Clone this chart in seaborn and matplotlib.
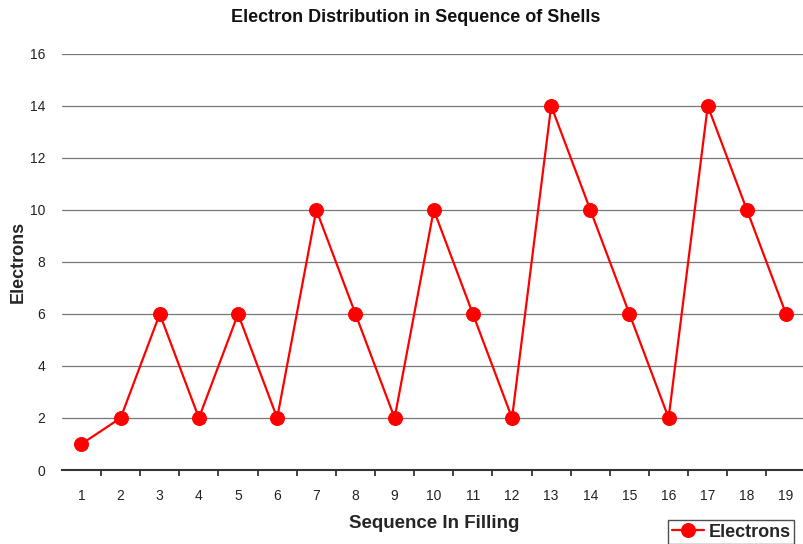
import numpy as np
import pandas as pd
import seaborn as sns
import matplotlib.pyplot as plt
from matplotlib.ticker import FixedLocator

# === DATA ===
sequence = list(range(1, 20))
electrons = [1, 2, 6, 2, 6, 2, 10, 6, 2, 10, 6, 2, 14, 10, 6, 2, 14, 10, 6]
y_ticks = [0, 2, 4, 6, 8, 10, 12, 14, 16]

df = pd.DataFrame({'Sequence In Filling': sequence, 'Electrons': electrons})

# === STYLE ===
sns.set_style('white')
plt.rcParams['font.family'] = ['Liberation Sans', 'DejaVu Sans']

fig = plt.figure(figsize=(8.04, 5.44), dpi=100)
ax = fig.add_axes([0.077, 0.136, 0.925, 0.765])

sns.lineplot(data=df, x='Sequence In Filling', y='Electrons', color='#ff0000',
             marker='o', markersize=10, markeredgecolor='#ff0000', linewidth=1.6,
             label='Electrons', ax=ax)

ax.set_xlim(0.5, 19.5)
ax.set_ylim(0, 16)
ax.set_yticks(y_ticks)
ax.set_xticks(sequence)
ax.xaxis.set_minor_locator(FixedLocator(np.arange(1.5, 19.5, 1)))
ax.tick_params(axis='x', which='major', bottom=False, length=0, labelsize=10,
               pad=14, colors='#222222')
ax.tick_params(axis='x', which='minor', bottom=True, length=4, width=1.2,
               color='#222222', direction='out')
ax.tick_params(axis='y', left=False, length=0, labelsize=10, pad=12, colors='#222222')

ax.grid(axis='y', color='#777777', linewidth=0.9)
ax.set_axisbelow(True)
for side in ['left', 'right', 'top']:
    ax.spines[side].set_visible(False)
ax.spines['bottom'].set_color('#333333')
ax.spines['bottom'].set_linewidth(1.5)

fig.suptitle('Electron Distribution in Sequence of Shells', x=0.517, y=0.983,
             fontsize=13, fontweight='bold', color='#111111')
ax.set_xlabel('Sequence In Filling', fontsize=13.5, fontweight='bold', labelpad=8)
ax.set_ylabel('Electrons', fontsize=13, fontweight='bold')
ax.yaxis.set_label_coords(-0.047, 0.5)

leg = ax.legend(loc='upper left', bbox_to_anchor=(0.815, -0.12), frameon=True,
                fancybox=False, edgecolor='#222222', fontsize=13, borderpad=0.2,
                handlelength=1.8, handletextpad=0.25, borderaxespad=0)
for t in leg.get_texts():
    t.set_fontweight('bold')

fig.savefig('out.png', dpi=100)
